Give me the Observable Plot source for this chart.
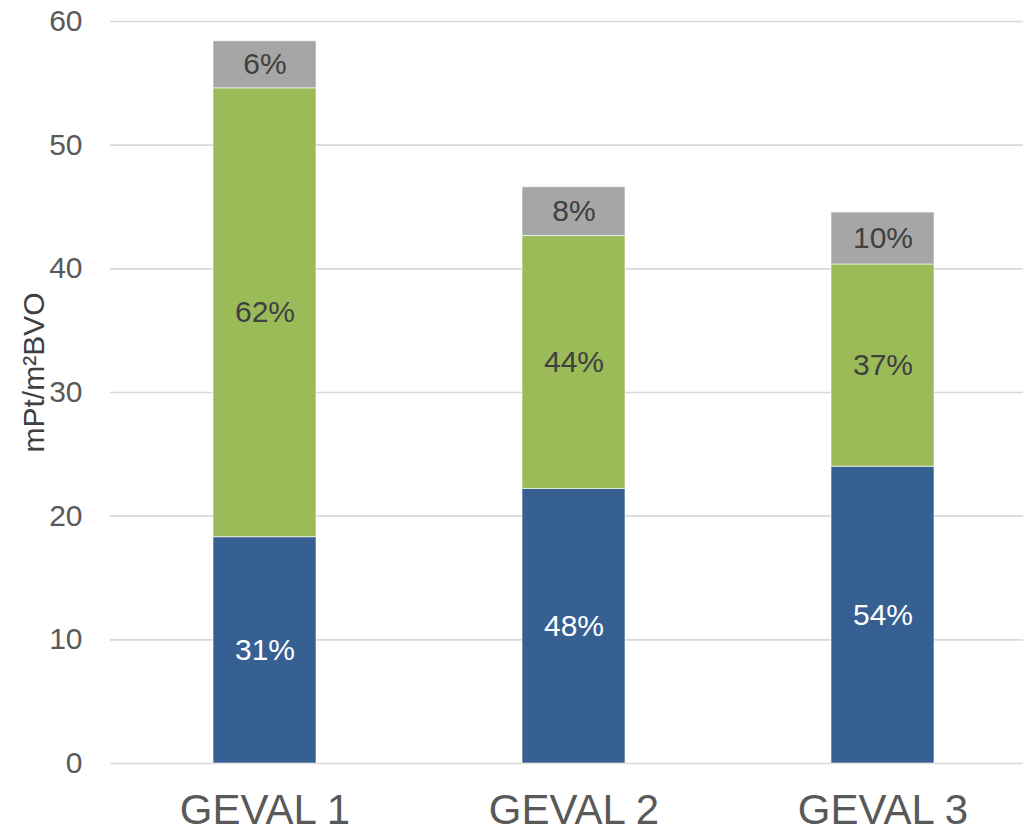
<!DOCTYPE html>
<html>
<head>
<meta charset="utf-8">
<script src="https://cdn.jsdelivr.net/npm/d3@7"></script>
<script src="https://cdn.jsdelivr.net/npm/@observablehq/plot@0.6"></script>
<style>
  html, body { margin: 0; padding: 0; background: #fff; overflow: hidden; }
  svg { display: block; }
</style>
</head>
<body>
<div id="chart"></div>
<script>
const cases = ["GEVAL 1", "GEVAL 2", "GEVAL 3"];
const parts = ["deel 1", "deel 2", "deel 3"];
const part1Values = [18.3, 22.2, 24.0];
const part2Values = [36.3, 20.45, 16.35];
const part3Values = [3.8, 3.95, 4.2];
const part1Labels = ["31%", "48%", "54%"];
const part2Labels = ["62%", "44%", "37%"];
const part3Labels = ["6%", "8%", "10%"];
const yTicks = [0, 10, 20, 30, 40, 50, 60];
const yLabel = "mPt/m²BVO";

const partColors = ["#366092", "#9BBB59", "#A6A6A6"];
const labelColors = ["#ffffff", "#404040", "#404040"];

const series = [
  [part1Values, part1Labels],
  [part2Values, part2Labels],
  [part3Values, part3Labels]
];
const rows = [];
series.forEach(([vals, labs], p) => {
  cases.forEach((c, i) => rows.push({case: c, part: parts[p], value: vals[i], label: labs[i], light: p === 0}));
});

const font = "'Liberation Sans', Arial, sans-serif";
const stackOpts = {x: "case", y: "value", z: "part", text: "label", fontSize: 30};

const chart = Plot.plot({
  width: 1023,
  height: 829,
  marginTop: 21,
  marginBottom: 66,
  marginLeft: 110,
  marginRight: 0,
  style: {fontFamily: font, background: "#fff", overflow: "visible"},
  x: {type: "band", domain: cases, range: [110, 1037], paddingInner: 0.667, paddingOuter: 0.333, align: 0.5, label: null},
  y: {domain: [0, 60], label: null},
  color: {type: "ordinal", domain: parts, range: partColors},
  marks: [
    Plot.gridY(yTicks, {stroke: "#d9d9d9", strokeOpacity: 1, strokeWidth: 1.6}),
    Plot.barY(rows, Plot.stackY({x: "case", y: "value", fill: "part", stroke: "#ffffff", strokeOpacity: 0.6, strokeWidth: 1})),
    Plot.text(rows, Plot.filter(d => d.light, Plot.stackY({...stackOpts, fill: labelColors[0]}))),
    Plot.text(rows, Plot.filter(d => !d.light, Plot.stackY({...stackOpts, fill: labelColors[1]}))),
    Plot.axisY(yTicks, {tickSize: 0, tickPadding: 28, fontSize: 30, color: "#595959", label: null}),
    Plot.axisX({tickSize: 0, tickPadding: 31, fontSize: 42, color: "#595959", label: null}),
    Plot.text([yLabel], {frameAnchor: "left", textAnchor: "middle", rotate: -90, dx: -76, dy: -20, fontSize: 30, fill: "#404040"})
  ]
});
document.getElementById("chart").appendChild(chart);
</script>
</body>
</html>
